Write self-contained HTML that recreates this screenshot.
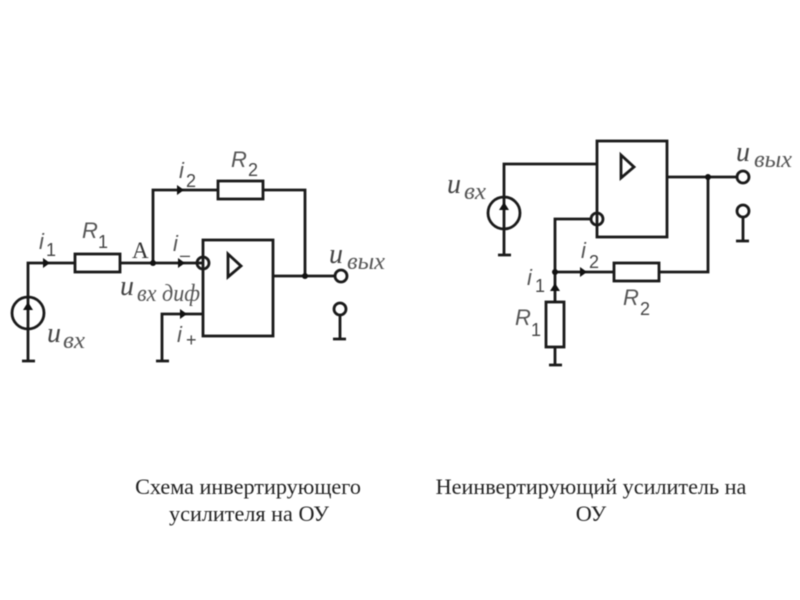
<!DOCTYPE html>
<html><head><meta charset="utf-8">
<style>
html,body{margin:0;padding:0;background:#fff}
svg{display:block;filter:blur(.4px)}
.w{fill:none;stroke:#1a1a1a;stroke-width:2.8}
.a{fill:#111;stroke:none}
.d{fill:#111;stroke:none}
.c{fill:#fff;stroke:#1a1a1a;stroke-width:2.8}
.l{font-family:"Liberation Serif",serif;font-style:italic;fill:#444;font-size:28px}
.r{font-family:"Liberation Sans",sans-serif;font-style:italic;fill:#555;font-size:22px}
.s{font-family:"Liberation Sans",sans-serif;fill:#444;font-size:18px}
.k{font-family:"Liberation Serif",serif;font-style:italic;fill:#555;font-size:24px}
.cap{font-family:"Liberation Serif",serif;fill:#222;font-size:22.2px;text-anchor:middle}
</style></head><body>
<svg width="800" height="600" viewBox="0 0 800 600" xmlns="http://www.w3.org/2000/svg">
<rect width="800" height="600" fill="#fff"/>
<!-- left -->
<path class="w" d="M28 361V263H75M120 263H204M153 263V190H218M263 190H305V276M273 276H335M162 361V314H203M22 361H35M156 361H169"/>
<rect class="w" x="75" y="254" width="45" height="18"/>
<rect class="w" x="218" y="181" width="45" height="18"/>
<rect class="w" x="203" y="240" width="70" height="96"/>
<circle class="w" cx="28" cy="313" r="16"/>
<circle class="w" cx="203" cy="263" r="6"/>
<path class="w" d="M228 254L241 266L228 277Z"/>
<circle class="c" cx="341" cy="276" r="6"/>
<path class="w" d="M340 315V339M333 339H346"/>
<circle class="c" cx="340" cy="309" r="6"/>
<circle class="d" cx="153" cy="263" r="3"/><circle class="d" cx="305" cy="276" r="3"/>
<path class="a" d="M43 258L50 263L43 268ZM177 185L184 190L177 195ZM178 258L185 263L178 268ZM180 309L187 314L180 319ZM28 302L33 310H23Z"/>
<!-- right -->
<path class="w" d="M504 255V164H597M498 255H511M591 219H555V302M555 347V365M549 365H562M555 272H614M659 272H708V177M667 177H737"/>
<rect class="w" x="597" y="141" width="70" height="96"/>
<rect class="w" x="546" y="302" width="18" height="45"/>
<rect class="w" x="614" y="263" width="45" height="18"/>
<circle class="w" cx="504" cy="213" r="16"/>
<circle class="w" cx="597" cy="219" r="6"/>
<path class="w" d="M621 155L634 167L621 178Z"/>
<circle class="c" cx="743" cy="177" r="6"/>
<path class="w" d="M743 217V241M736 241H749"/>
<circle class="c" cx="743" cy="211" r="6"/>
<circle class="d" cx="555" cy="272" r="3"/><circle class="d" cx="708" cy="177" r="3"/>
<path class="a" d="M580 267L587 272L580 277ZM555 283L560 291H550ZM504 202L509 210H499Z"/>
<!-- labels left -->
<text class="r" x="39" y="249">i</text><text class="s" x="46" y="256">1</text>
<text class="r" x="82" y="238">R</text><text class="s" x="98" y="248">1</text>
<text x="132" y="258" style="font-size:23px;font-family:'Liberation Serif',serif;fill:#333">A</text>
<text class="r" x="179" y="178">i</text><text class="s" x="186" y="187">2</text>
<text class="r" x="231" y="167">R</text><text class="s" x="248" y="176">2</text>
<text class="r" x="173" y="251">i</text><text class="s" x="180" y="261">–</text>
<text class="l" x="120" y="295">u</text><text class="k" x="137" y="301" textLength="63" lengthAdjust="spacingAndGlyphs">вх диф</text>
<text class="r" x="177" y="342">i</text><text class="s" x="186" y="346">+</text>
<text class="l" x="47" y="342">u</text><text class="k" x="63" y="348" textLength="22" lengthAdjust="spacingAndGlyphs">вх</text>
<text class="l" x="329" y="263">u</text><text class="k" x="347" y="269" textLength="38" lengthAdjust="spacingAndGlyphs">вых</text>
<!-- labels right -->
<text class="l" x="447" y="193">u</text><text class="k" x="464" y="199" textLength="22" lengthAdjust="spacingAndGlyphs">вх</text>
<text class="l" x="736" y="161">u</text><text class="k" x="754" y="167" textLength="38" lengthAdjust="spacingAndGlyphs">вых</text>
<text class="r" x="581" y="258">i</text><text class="s" x="589" y="268">2</text>
<text class="r" x="527" y="285">i</text><text class="s" x="535" y="292">1</text>
<text class="r" x="515" y="325">R</text><text class="s" x="531" y="336">1</text>
<text class="r" x="623" y="305">R</text><text class="s" x="640" y="315">2</text>
<!-- captions -->
<text class="cap" x="248" y="494">Схема инвертирующего</text>
<text class="cap" x="249" y="521">усилителя на ОУ</text>
<text class="cap" x="591" y="494">Неинвертирующий усилитель на</text>
<text class="cap" x="591" y="521">ОУ</text>
</svg>
</body></html>
